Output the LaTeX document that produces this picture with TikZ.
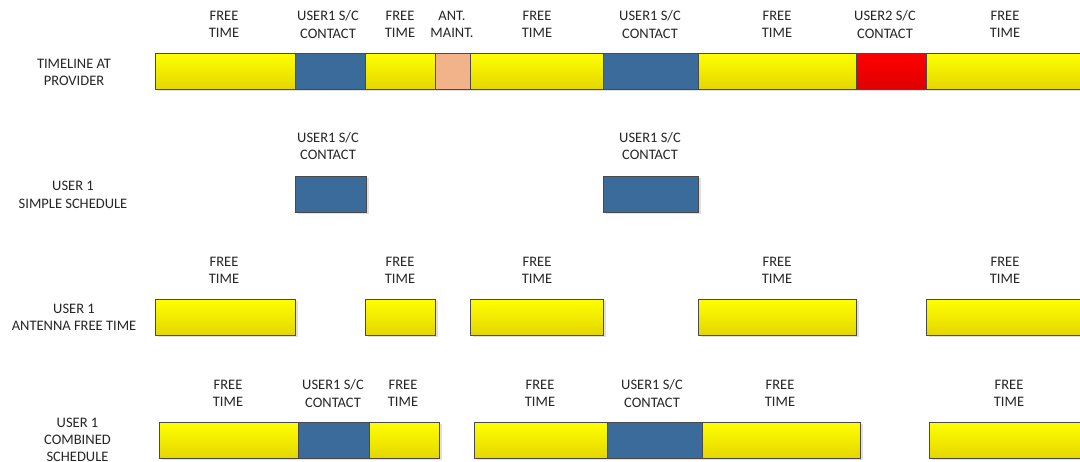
\documentclass[tikz,border=0pt]{standalone}
\usepackage{fontspec}
\setmainfont{Carlito}
\definecolor{segline}{HTML}{4A4A4A}
\definecolor{contactblue}{HTML}{3B6B9A}
\definecolor{maintpeach}{HTML}{F2B38A}
\definecolor{txt}{HTML}{262626}
\tikzset{
  seg/.style={draw=segline, line width=0.9pt, inner sep=0pt, anchor=north west,
    minimum height=36pt},
  freeseg/.style={seg, top color=yellow, bottom color={rgb,255:red,228;green,214;blue,0}},
  userseg/.style={seg, fill=contactblue},
  maintseg/.style={seg, fill=maintpeach},
  otherseg/.style={seg, top color={rgb,255:red,255;green,0;blue,0}, bottom color={rgb,255:red,222;green,0;blue,0}},
  shade/.style={fill=black!12, draw=none},
  lbl/.style={align=center, inner sep=0pt, text=txt, font=\fontsize{14.5}{17.2}\selectfont},
}
\begin{document}
\begin{tikzpicture}[x=1pt, y=-1pt]
\useasboundingbox (0,0) rectangle (1080,462);
\fill[white] (0,0) rectangle (1080,462);

% soft drop shadows under every bar
\foreach \xa/\xb/\ya in {155/470/53, 470/1090/53,
                         295/366/176, 603/698/176,
                         155/295/299, 365/435/299, 470/603/299, 698/856/299, 926/1090/299,
                         158.7/439/422, 474/860/422, 929/1090/422}
  \fill[shade] (\xa+2.5,\ya+2.5) rectangle (\xb+2.5,\ya+38.5);

% ---- timeline at provider
\node[lbl] (l1) at (74,72.3) {TIMELINE AT\\PROVIDER};
\node[freeseg,  minimum width=140pt] (a1) at (155,53) {};
\node[userseg,  minimum width=70pt]  (a2) at (295,53) {};
\node[freeseg,  minimum width=70pt]  (a3) at (365,53) {};
\node[maintseg, minimum width=35pt]  (a4) at (435,53) {};
\node[freeseg,  minimum width=133pt] (a5) at (470,53) {};
\node[userseg,  minimum width=95pt]  (a6) at (603,53) {};
\node[freeseg,  minimum width=158pt] (a7) at (698,53) {};
\node[otherseg, minimum width=70pt]  (a8) at (856,53) {};
\node[freeseg,  minimum width=164pt] (a9) at (926,53) {};
\node[lbl] (ta1) at (224,24.6) {FREE\\TIME};
\node[lbl] (ta2) at (328,24.6) {USER1 S/C\\CONTACT};
\node[lbl] (ta3) at (400,24.6) {FREE\\TIME};
\node[lbl] (ta4) at (452,24.6) {ANT.\\MAINT.};
\node[lbl] (ta5) at (537,24.6) {FREE\\TIME};
\node[lbl] (ta6) at (650,24.6) {USER1 S/C\\CONTACT};
\node[lbl] (ta7) at (777,24.6) {FREE\\TIME};
\node[lbl] (ta8) at (885,24.6) {USER2 S/C\\CONTACT};
\node[lbl] (ta9) at (1005,24.6) {FREE\\TIME};

% ---- user 1 simple schedule
\node[lbl] (l2) at (73,194.8) {USER 1\\SIMPLE SCHEDULE};
\node[userseg, minimum width=71pt] (b1) at (295,176) {};
\node[userseg, minimum width=95pt] (b2) at (603,176) {};
\node[lbl] (tb1) at (328,146) {USER1 S/C\\CONTACT};
\node[lbl] (tb2) at (650,146) {USER1 S/C\\CONTACT};

% ---- user 1 antenna free time
\node[lbl] (l3) at (74,317) {USER 1\\ANTENNA FREE TIME};
\node[freeseg, minimum width=140pt] (c1) at (155,299) {};
\node[freeseg, minimum width=70pt]  (c2) at (365,299) {};
\node[freeseg, minimum width=133pt] (c3) at (470,299) {};
\node[freeseg, minimum width=158pt] (c4) at (698,299) {};
\node[freeseg, minimum width=164pt] (c5) at (926,299) {};
\node[lbl] (tc1) at (224,270.5) {FREE\\TIME};
\node[lbl] (tc2) at (400,270.5) {FREE\\TIME};
\node[lbl] (tc3) at (537,270.5) {FREE\\TIME};
\node[lbl] (tc4) at (777,270.5) {FREE\\TIME};
\node[lbl] (tc5) at (1005,270.5) {FREE\\TIME};

% ---- user 1 combined schedule
\node[lbl] (l4) at (77.5,440) {USER 1\\COMBINED\\SCHEDULE};
\node[freeseg, minimum width=139.3pt] (d1) at (158.7,422) {};
\node[userseg, minimum width=71pt]    (d2) at (298,422) {};
\node[freeseg, minimum width=70pt]    (d3) at (369,422) {};
\node[freeseg, minimum width=133pt]   (d4) at (474,422) {};
\node[userseg, minimum width=95pt]    (d5) at (607,422) {};
\node[freeseg, minimum width=158pt]   (d6) at (702,422) {};
\node[freeseg, minimum width=161pt]   (d7) at (929,422) {};
\node[lbl] (td1) at (228,393.5) {FREE\\TIME};
\node[lbl] (td2) at (333,393.5) {USER1 S/C\\CONTACT};
\node[lbl] (td3) at (403,393.5) {FREE\\TIME};
\node[lbl] (td4) at (540,393.5) {FREE\\TIME};
\node[lbl] (td5) at (652,393.5) {USER1 S/C\\CONTACT};
\node[lbl] (td6) at (780,393.5) {FREE\\TIME};
\node[lbl] (td7) at (1009,393.5) {FREE\\TIME};
\end{tikzpicture}
\end{document}
